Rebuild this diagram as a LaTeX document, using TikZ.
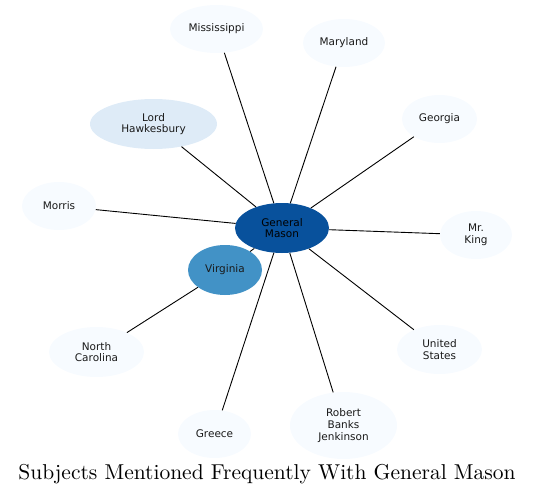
\documentclass[tikz,border=0pt]{standalone}
\usepackage{fontspec}
\newfontfamily\nodefont{DejaVu Sans}
\usetikzlibrary{shapes.geometric}
\definecolor{cdark}{HTML}{08519C}
\definecolor{cmid}{HTML}{4292C6}
\definecolor{clight}{HTML}{DEEBF7}
\definecolor{cpale}{HTML}{F7FBFF}
\definecolor{ctext}{HTML}{1A1A1A}
\tikzset{
  ent/.style={ellipse, inner sep=0pt, align=center, text=ctext,
    font=\nodefont\fontsize{10.5}{11.7}\selectfont},
  pale/.style={ent, fill=cpale},
  link/.style={line width=0.9pt, black},
}
\begin{document}
\begin{tikzpicture}[x=1pt,y=-1pt]
\useasboundingbox (0,0) rectangle (535,495);
\node[pale, minimum width=93pt, minimum height=48pt] (miss) at (216.5,29) {Mississippi};
\node[pale, minimum width=82pt, minimum height=48pt] (mary) at (344,43) {Maryland};
\node[ent, fill=clight, minimum width=127pt, minimum height=50pt] (lord) at (153.5,124) {Lord\\Hawkesbury};
\node[pale, minimum width=75pt, minimum height=48pt] (geo) at (439.5,119) {Georgia};
\node[pale, minimum width=74pt, minimum height=48pt] (morris) at (59,206) {Morris};
\node[ent, fill=cdark, text=black, minimum width=94pt, minimum height=50pt] (gm) at (282,228) {General\\Mason};
\node[pale, minimum width=72pt, minimum height=48pt] (king) at (476,235) {Mr.\\King};
\node[ent, fill=cmid, minimum width=74pt, minimum height=50pt] (va) at (225,270) {Virginia};
\node[pale, minimum width=95pt, minimum height=50pt] (nc) at (96.5,352) {North\\Carolina};
\node[pale, minimum width=85pt, minimum height=49pt] (us) at (439.5,349.5) {United\\States};
\node[pale, minimum width=73pt, minimum height=48pt] (greece) at (214.5,434) {Greece};
\node[pale, minimum width=107pt, minimum height=67pt] (rbj) at (343.5,425.5) {Robert\\Banks\\Jenkinson};
\node[inner sep=0pt, anchor=base] (title) at (267,479) {\scalebox{2.15}{\fontsize{10}{12}\selectfont Subjects Mentioned Frequently With General Mason}};
\draw[link] (gm) -- (miss);
\draw[link] (gm) -- (mary);
\draw[link] (gm) -- (lord);
\draw[link] (gm) -- (geo);
\draw[link] (gm) -- (morris);
\draw[link] (gm) -- (king);
\draw[link] (gm) -- (va);
\draw[link] (va) -- (nc);
\draw[link] (gm) -- (us);
\draw[link] (gm) -- (greece);
\draw[link] (gm) -- (rbj);
\end{tikzpicture}
\end{document}
